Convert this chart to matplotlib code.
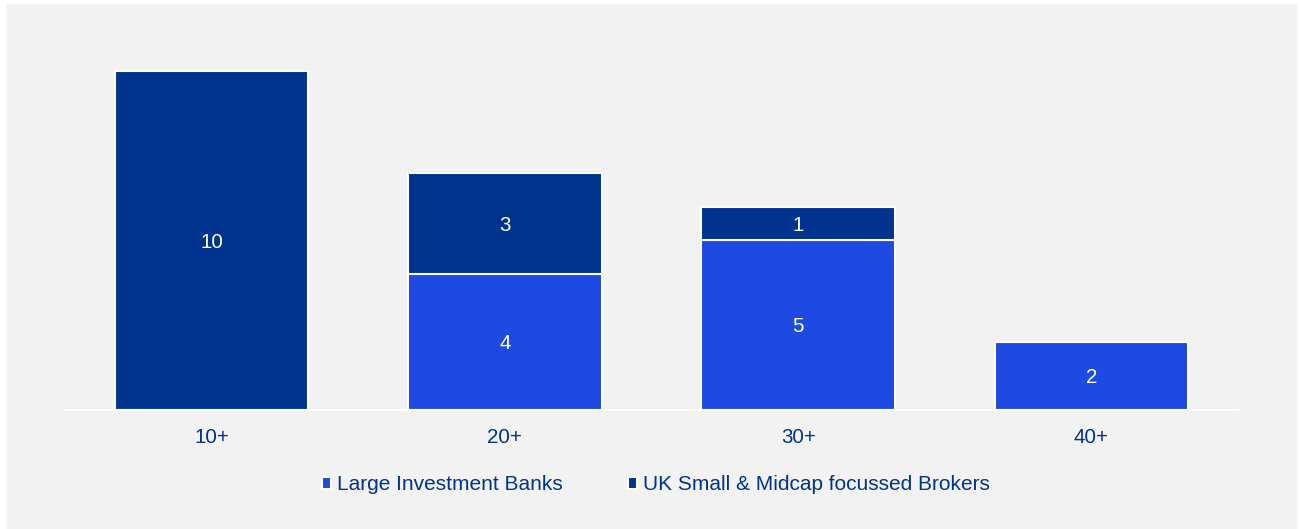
import numpy as np
import matplotlib.pyplot as plt

plt.rcParams["font.family"] = ["Liberation Sans", "DejaVu Sans"]

categories = ["10+", "20+", "30+", "40+"]
large_banks = [0, 4, 5, 2]
small_midcap = [10, 3, 1, 0]

DARK = "#00338D"
LIGHT = "#1E49E2"
BG = "#F2F2F2"

W, H = 1300, 529
fig = plt.figure(figsize=(W / 100, H / 100), dpi=100)
fig.patch.set_facecolor("white")
# grey panel behind everything
fig.patches.append(plt.Rectangle((7 / W, 0), (1296 - 7) / W, (529 - 4) / H,
                                 transform=fig.transFigure, color=BG, zorder=-10))

ax = fig.add_axes([65 / W, (H - 410) / H, (1238 - 65) / W, (410 - 37) / H])
ax.patch.set_alpha(0)

x = np.arange(len(categories))
lb = np.array(large_banks)
sm = np.array(small_midcap)
b1 = ax.bar(x, lb, width=0.66, color=LIGHT, edgecolor="white", linewidth=1.5,
            label="Large Investment Banks")
b2 = ax.bar(x, sm, width=0.66, bottom=lb, color=DARK, edgecolor="white", linewidth=1.5,
            label="UK Small & Midcap focussed Brokers")

for xi, v in zip(x, lb):
    if v:
        ax.text(xi, v / 2 - 0.05, str(v), ha="center", va="center", color="white", fontsize=14.8)
for xi, v, base in zip(x, sm, lb):
    if v:
        ax.text(xi, base + v / 2 - 0.05, str(v), ha="center", va="center", color="white", fontsize=14.8)

ax.set_xlim(-0.5, 3.5)
ax.set_ylim(0, 11)
ax.set_xticks(x)
ax.set_xticklabels(categories, color=DARK, fontsize=14.8)
ax.tick_params(axis="x", length=0, pad=13)
ax.set_yticks([])
for s in ["top", "right", "left"]:
    ax.spines[s].set_visible(False)
ax.spines["bottom"].set_color("white")
ax.spines["bottom"].set_linewidth(1.5)

leg = fig.legend(handles=[b1, b2], loc="center", bbox_to_anchor=(656 / W, (H - 485) / H),
                 ncol=2, frameon=False, fontsize=15, handlelength=0.45, handleheight=0.45,
                 handletextpad=0.3, columnspacing=3.1)
for t in leg.get_texts():
    t.set_color(DARK)

fig.savefig("out.png", dpi=100, facecolor=fig.get_facecolor())
